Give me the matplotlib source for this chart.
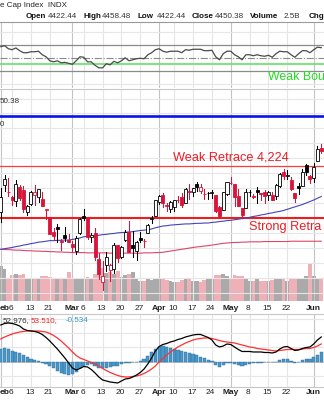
import matplotlib.pyplot as plt
from matplotlib.patches import Rectangle

plt.rcParams['font.family'] = ['Liberation Sans', 'DejaVu Sans']

W, H = 324, 400

# trading days shown, Feb 1 .. Jun 5 2023
dates = ['02-01', '02-02', '02-03', '02-06', '02-07', '02-08', '02-09', '02-10', '02-13', '02-14',
         '02-15', '02-16', '02-17', '02-21', '02-22', '02-23', '02-24', '02-27', '02-28', '03-01',
         '03-02', '03-03', '03-06', '03-07', '03-08', '03-09', '03-10', '03-13', '03-14', '03-15',
         '03-16', '03-17', '03-20', '03-21', '03-22', '03-23', '03-24', '03-27', '03-28', '03-29',
         '03-30', '03-31', '04-03', '04-04', '04-05', '04-06', '04-10', '04-11', '04-12', '04-13',
         '04-14', '04-17', '04-18', '04-19', '04-20', '04-21', '04-24', '04-25', '04-26', '04-27',
         '04-28', '05-01', '05-02', '05-03', '05-04', '05-05', '05-08', '05-09', '05-10', '05-11',
         '05-12', '05-15', '05-16', '05-17', '05-18', '05-19', '05-22', '05-23', '05-24', '05-25',
         '05-26', '05-30', '05-31', '06-01', '06-02', '06-05']

prev_close = 4076.60
opens = [4070.1, 4158.7, 4136.7, 4119.6, 4105.4, 4153.5, 4144.3, 4068.9, 4096.6, 4126.7,
         4119.5, 4114.8, 4077.4, 4052.4, 4001.8, 4018.6, 3973.2, 3992.4, 3977.2, 3963.3,
         3938.7, 3998.0, 4055.2, 4048.3, 3987.6, 3998.7, 3912.8, 3835.1, 3894.0, 3876.7,
         3878.9, 3958.7, 3917.5, 3975.9, 4002.0, 3959.2, 3939.2, 3982.9, 3974.1, 3999.5,
         4046.7, 4056.2, 4102.2, 4128.0, 4094.5, 4081.2, 4085.2, 4110.3, 4121.7, 4100.0,
         4140.1, 4137.2, 4164.3, 4139.3, 4130.5, 4132.1, 4132.1, 4126.4, 4087.8, 4075.3,
         4129.6, 4166.8, 4164.1, 4122.3, 4082.6, 4084.7, 4137.0, 4124.3, 4143.7, 4132.2,
         4138.5, 4126.7, 4128.0, 4122.9, 4157.7, 4204.2, 4190.8, 4176.8, 4133.0, 4155.7,
         4156.2, 4226.7, 4190.7, 4183.0, 4241.0, 4283.0]
highs = [4149.0, 4195.4, 4182.4, 4124.6, 4176.5, 4160.8, 4156.2, 4094.4, 4138.9, 4159.8,
         4148.1, 4136.5, 4081.5, 4052.4, 4017.4, 4028.3, 3978.3, 4018.1, 3997.5, 3971.7,
         3990.8, 4048.3, 4078.5, 4050.0, 4000.4, 4017.8, 3934.1, 3905.1, 3937.3, 3894.3,
         3964.5, 3958.9, 3956.6, 4009.1, 4039.5, 4007.7, 3972.7, 4003.8, 3979.2, 4030.6,
         4057.9, 4110.8, 4127.7, 4133.1, 4099.7, 4107.3, 4109.5, 4124.3, 4134.4, 4150.3,
         4163.2, 4151.7, 4169.5, 4162.6, 4148.6, 4138.0, 4142.4, 4126.4, 4089.7, 4138.2,
         4170.1, 4186.9, 4164.1, 4148.3, 4082.6, 4147.0, 4142.3, 4130.4, 4154.3, 4132.8,
         4143.7, 4141.3, 4135.5, 4164.7, 4202.2, 4212.9, 4209.2, 4185.7, 4133.0, 4165.7,
         4212.9, 4231.1, 4195.4, 4232.4, 4290.7, 4299.3]
lows = [4037.2, 4141.9, 4123.4, 4093.4, 4088.4, 4111.4, 4069.7, 4060.8, 4092.7, 4095.0,
        4104.0, 4089.5, 4048.0, 3995.2, 3976.9, 3969.2, 3943.1, 3973.6, 3969.0, 3939.1,
        3928.2, 3995.2, 4044.6, 3980.3, 3969.8, 3908.7, 3846.3, 3808.9, 3873.6, 3838.2,
        3864.1, 3901.3, 3916.9, 3971.2, 3936.2, 3919.1, 3909.2, 3970.5, 3951.5, 3999.5,
        4032.1, 4056.2, 4097.0, 4086.9, 4072.6, 4069.8, 4072.6, 4102.6, 4086.9, 4099.4,
        4113.2, 4123.2, 4140.4, 4134.5, 4114.6, 4113.9, 4117.8, 4071.4, 4049.4, 4075.3,
        4127.2, 4164.1, 4089.7, 4088.9, 4048.3, 4084.7, 4123.8, 4116.7, 4098.9, 4109.3,
        4099.1, 4110.3, 4109.9, 4113.6, 4153.5, 4180.2, 4179.7, 4142.5, 4104.0, 4129.7,
        4156.2, 4192.2, 4166.2, 4171.6, 4241.0, 4266.8]
closes = [4119.2, 4179.8, 4136.5, 4111.1, 4164.0, 4117.9, 4081.5, 4090.5, 4137.3, 4136.1,
          4147.6, 4090.4, 4079.1, 3997.3, 3991.1, 4012.3, 3970.0, 3982.2, 3970.2, 3951.4,
          3981.4, 4045.6, 4048.4, 3986.4, 3992.0, 3918.3, 3861.6, 3855.8, 3919.3, 3891.9,
          3960.3, 3916.6, 3951.6, 4002.9, 3937.0, 3948.7, 3971.0, 3977.5, 3971.3, 4027.8,
          4050.8, 4109.3, 4124.5, 4100.6, 4090.4, 4105.0, 4109.1, 4108.9, 4092.0, 4146.2,
          4137.6, 4151.3, 4154.9, 4154.5, 4129.8, 4133.5, 4137.0, 4071.6, 4056.0, 4135.4,
          4169.5, 4167.9, 4119.6, 4090.8, 4061.2, 4136.3, 4138.1, 4119.2, 4137.6, 4130.6,
          4124.1, 4136.3, 4109.9, 4158.8, 4198.1, 4192.0, 4192.6, 4145.6, 4115.2, 4151.3,
          4205.5, 4205.5, 4179.8, 4221.0, 4282.4, 4273.8]
volume_b = [5.0, 4.6, 3.3, 3.7, 3.9, 3.7, 3.9, 3.1, 3.1, 3.3,
            3.3, 3.6, 3.6, 3.4, 3.1, 3.3, 3.1, 3.1, 4.1, 3.1,
            3.3, 3.3, 3.1, 3.4, 3.1, 3.9, 4.3, 4.7, 4.0, 4.1,
            3.9, 4.3, 3.4, 3.7, 3.9, 4.1, 3.3, 2.9, 2.9, 3.1,
            3.0, 3.3, 3.1, 3.1, 3.0, 2.9, 2.7, 2.7, 3.0, 3.1,
            3.1, 2.9, 2.9, 2.7, 3.0, 3.1, 3.1, 3.7, 3.7, 3.9,
            3.6, 3.1, 3.7, 3.6, 3.6, 3.3, 2.9, 2.9, 3.1, 2.9,
            2.9, 2.9, 3.0, 3.1, 3.3, 3.1, 2.9, 3.1, 3.1, 3.3,
            3.1, 3.6, 5.3, 3.6, 3.3, 3.1]
ma50 = [3945, 3947, 3949, 3951, 3954, 3956, 3959, 3961, 3964, 3966,
        3969, 3970, 3972, 3974, 3974, 3975, 3975, 3976, 3976, 3978,
        3980, 3983, 3987, 3988, 3989, 3990, 3992, 3994, 3995, 3997,
        3998, 4000, 4001, 4002, 4003, 4004, 4006, 4008, 4009, 4011,
        4013, 4017, 4020, 4023, 4024, 4026, 4027, 4028, 4029, 4030,
        4030, 4031, 4032, 4032, 4033, 4033, 4035, 4036, 4038, 4039,
        4041, 4042, 4044, 4046, 4048, 4050, 4052, 4055, 4057, 4060,
        4062, 4065, 4067, 4070, 4072, 4075, 4079, 4083, 4087, 4091,
        4095, 4100, 4105, 4110, 4116, 4122]
ma200 = [3945, 3944, 3944, 3943, 3942, 3942, 3941, 3940, 3940, 3939,
         3939, 3938, 3938, 3937, 3937, 3936, 3936, 3935, 3935, 3934,
         3934, 3934, 3934, 3933, 3933, 3933, 3933, 3933, 3933, 3932,
         3932, 3932, 3932, 3932, 3932, 3932, 3932, 3932, 3933, 3933,
         3933, 3934, 3934, 3935, 3937, 3939, 3941, 3943, 3945, 3947,
         3949, 3951, 3953, 3954, 3956, 3957, 3959, 3961, 3963, 3965,
         3966, 3967, 3968, 3968, 3969, 3969, 3970, 3970, 3970, 3970,
         3971, 3971, 3971, 3971, 3971, 3971, 3971, 3972, 3972, 3972,
         3972, 3972, 3972, 3972, 3972, 3972]
rsi = [66.9, 68.5, 63.8, 62.3, 65.0, 60.8, 57.7, 57.7, 59.2, 59.2,
       60.0, 54.6, 51.5, 45.4, 43.8, 45.4, 42.3, 43.0, 41.5, 40.0,
       45.4, 51.5, 50.8, 43.8, 43.8, 38.5, 34.6, 34.6, 40.8, 39.2,
       44.6, 42.3, 45.4, 50.0, 45.4, 46.9, 48.5, 49.2, 48.5, 54.6,
       57.7, 62.3, 63.8, 60.0, 58.5, 60.0, 60.0, 60.0, 57.7, 62.3,
       61.5, 63.0, 63.0, 63.0, 60.8, 60.8, 61.5, 51.5, 46.9, 56.2,
       60.0, 60.0, 54.6, 51.5, 46.9, 54.6, 54.6, 53.1, 54.6, 53.1,
       52.3, 53.8, 50.8, 56.2, 60.0, 59.2, 59.2, 54.6, 50.8, 56.2,
       60.8, 60.8, 57.7, 62.3, 66.2, 65.4]
macd = [51.4, 53.5, 54.2, 53.5, 52.1, 50.0, 45.8, 43.7, 43.0, 42.3,
        40.9, 38.1, 33.9, 29.0, 23.4, 17.8, 11.5, 5.2, -1.8, -8.8,
        -11.6, -9.5, -6.7, -7.4, -10.9, -15.8, -21.4, -25.6, -27.0, -28.4,
        -29.1, -29.8, -27.0, -24.2, -23.5, -21.4, -18.6, -15.1, -10.2, -3.2,
        5.2, 15.0, 21.3, 24.1, 25.5, 27.6, 29.0, 31.1, 32.5, 34.6,
        36.0, 37.4, 38.1, 38.1, 36.0, 33.9, 30.4, 23.4, 20.6, 22.0,
        24.8, 24.1, 20.6, 17.1, 14.3, 14.3, 14.3, 13.6, 13.6, 13.6,
        12.9, 12.9, 12.2, 13.6, 17.8, 20.6, 21.3, 18.5, 15.7, 16.4,
        18.5, 19.9, 20.6, 24.8, 30.4, 34.6]
signal = [31.8, 34.6, 36.7, 38.8, 40.2, 41.6, 42.3, 43.0, 43.0, 43.0,
          43.0, 42.3, 41.6, 39.5, 36.7, 33.2, 29.0, 24.1, 19.2, 13.6,
          8.7, 5.2, 3.1, 1.0, -1.1, -3.2, -6.0, -9.5, -12.3, -15.1,
          -17.2, -19.3, -20.7, -21.4, -21.4, -20.7, -20.0, -18.6, -16.5, -13.7,
          -10.2, -6.0, -0.4, 4.5, 9.4, 13.6, 17.1, 20.6, 23.4, 26.2,
          28.3, 30.4, 31.8, 32.5, 33.2, 33.2, 32.5, 31.1, 29.7, 28.3,
          27.6, 26.9, 26.2, 24.8, 23.4, 22.0, 20.6, 19.9, 18.5, 17.8,
          17.1, 16.4, 15.7, 15.0, 15.7, 16.4, 17.1, 17.1, 17.1, 17.1,
          17.8, 18.5, 18.5, 19.9, 22.0, 24.8]
hist = [17.8, 19.2, 17.8, 15.0, 13.6, 12.2, 9.4, 6.6, 3.8, 1.7,
        0.3, -1.8, -3.9, -6.0, -9.5, -13.0, -15.8, -17.9, -18.6, -17.9,
        -14.4, -9.5, -6.0, -4.6, -3.9, -6.0, -8.8, -9.5, -8.8, -8.1,
        -6.7, -6.0, -3.9, -2.5, -1.8, -1.1, -0.4, 1.0, 3.8, 8.0,
        12.9, 17.8, 20.6, 21.3, 20.6, 19.2, 17.8, 16.4, 15.0, 13.6,
        12.2, 10.8, 8.7, 6.6, 4.5, 2.4, 0.3, -4.6, -7.4, -4.6,
        -1.8, -1.8, -3.2, -4.6, -6.0, -4.6, -3.2, -2.5, -1.8, -1.8,
        -1.1, -1.1, -1.1, -0.4, 2.4, 3.8, 3.8, 0.3, -1.8, -0.4,
        2.4, 3.8, 3.8, 5.9, 9.4, 13.6]

# date axis labels: (day index, text, is month)
date_ticks = [(0, 'eb', True), (3, '6', False), (8, '13', False), (13, '21', False),
              (19, 'Mar', True), (22, '6', False), (27, '13', False), (32, '20', False),
              (37, '27', False), (42, 'Apr', True), (46, '10', False), (51, '17', False),
              (56, '24', False), (61, 'May', True), (66, '8', False), (71, '15', False),
              (76, '22', False), (83, 'Jun', True)]

weak_bound = 40
blue_level = 4391
weak_retrace = 4224
strong_retrace = 4050

RED = '#d8143a'
FS = 5.8
n = len(closes)
idx = list(range(n))
XL = (-0.8 / 3.77, (W - 0.8) / 3.77)

fig = plt.figure(figsize=(W / 100, H / 100), dpi=100)
fig.patch.set_facecolor('white')


def panel(top, bottom):
    ax = fig.add_axes([0, 1 - bottom / H, 1, (bottom - top) / H])
    ax.set_xlim(*XL)
    ax.set_xticks([])
    ax.set_yticks([])
    for s in ax.spines.values():
        s.set_visible(False)
    for i, _, month in date_ticks:
        ax.axvline(i, color='#c4c4c4' if month else '#e6e6e6', lw=0.8, zorder=0)
    return ax


def ptext(x, y, s, **kw):
    fig.text(x / W, 1 - y / H, s, va='center', **kw)


# ---- header
ptext(0, 5.5, 'e Cap Index  INDX', fontsize=FS, color='#222222')
hdr = [(26, 'Open', True), (48, '4422.44', False), (83, 'High', True), (102, '4458.48', False),
       (137, 'Low', True), (157, '4422.44', False), (192, 'Close', True), (215, '4450.38', False),
       (250, 'Volume', True), (284, '2.5B', False), (309, 'Chg', True)]
for x, s, b in hdr:
    ptext(x, 16, s, fontsize=FS, fontweight='bold' if b else 'normal',
          color='#111111' if b else '#333333')

# ---- RSI panel
ax_rsi = panel(21.5, 88)
ax_rsi.set_ylim(3.8, 105.4)
for lvl in (90, 10):
    ax_rsi.axhline(lvl, color='#e6e6e6', lw=0.8, zorder=0)
ax_rsi.axhline(70, color='#8a8a8a', lw=0.9)
ax_rsi.axhline(30, color='#8a8a8a', lw=0.9)
ax_rsi.axhline(50, color='#8a8a8a', lw=0.8, ls='-.')
ax_rsi.axhline(weak_bound, color='#66e066', lw=1.2)
ax_rsi.plot(idx, rsi, color='#4a4a4a', lw=0.9)
ax_rsi.spines['top'].set_visible(True)
ax_rsi.spines['top'].set_color('#9a9a9a')
ax_rsi.spines['top'].set_linewidth(0.8)
ax_rsi.text(70.8, 20.5, 'Weak Bou', color='#22dd22', fontsize=8.9, va='center')

# ---- price panel
ax = panel(89, 301)
ax.set_ylim(4224 - (301 - 166) * 3.35, 4224 + (166 - 89) * 3.35)
for lvl in range(3800, 4451, 50):
    ax.axhline(lvl, color='#e6e6e6', lw=0.8, zorder=0)
ax.spines['top'].set_visible(True)
ax.spines['top'].set_color('#c8c8c8')

# volume overlay
axv = ax.twinx()
axv.set_xlim(*XL)
axv.set_ylim(0, 212 / 7.0)
axv.set_yticks([])
for s in axv.spines.values():
    s.set_visible(False)
axv.set_zorder(ax.get_zorder() - 1)
ax.patch.set_visible(False)
pc = [prev_close] + closes[:-1]
vcol = ['#aaaaaa' if c >= p else '#f0b0b8' for c, p in zip(closes, pc)]
axv.bar(idx, volume_b, width=1.0, color=vcol, edgecolor='none')

ax.axhline(blue_level, color='#0a14e6', lw=1.9, zorder=3)
ax.axhline(weak_retrace, color='#ff3b3b', lw=0.9, zorder=3)
ax.axhline(strong_retrace, color='#ee1c1c', lw=1.5, zorder=3)
ax.text(45.6, weak_retrace + 8, 'Weak Retrace 4,224', color='#ee1c24', fontsize=9.2,
        va='bottom')
ax.text(65.8, strong_retrace - 30, 'Strong Retra', color='#ee1c24', fontsize=9.2,
        va='center')

ax.plot(idx, ma200, color='#e0446c', lw=0.8, zorder=4)
ax.plot(idx, ma50, color='#4444b8', lw=0.8, zorder=4)

for i in idx:
    o, h, l, c = opens[i], highs[i], lows[i], closes[i]
    col = RED if c < pc[i] else 'black'
    ax.plot([i, i], [l, h], color=col, lw=0.75, zorder=5)
    lo, hi = min(o, c), max(o, c)
    hollow = c > o
    ax.add_patch(Rectangle((i - 0.4, lo), 0.8, max(hi - lo, 1.0),
                           facecolor='white' if hollow else col, edgecolor=col,
                           lw=0.6, zorder=6))

ax.text(-0.2, 4440, '50.38', fontsize=FS, color='#333333', va='center')
ax.text(-0.2, 4362, '0', fontsize=FS, color='#333333', va='center')

# ---- MACD panel
axm = panel(314, 387)
axm.set_ylim((361.7 - 387) * 1.4, (361.7 - 314) * 1.4)
for lvl in (-20, 20, 40, 60):
    axm.axhline(lvl, color='#e6e6e6', lw=0.8, zorder=0)
axm.axhline(0, color='#bbbbbb', lw=0.6, zorder=1)
axm.bar(idx, hist, width=0.85, color='#4a97c9', edgecolor='#2d6f9a', lw=0.3, zorder=2)
axm.plot(idx, signal, color='#ff3030', lw=0.9, zorder=3)
axm.plot(idx, macd, color='black', lw=0.9, zorder=4)
axm.spines['top'].set_visible(True)
axm.spines['top'].set_color('#c8c8c8')
axm.spines['bottom'].set_visible(True)
axm.spines['bottom'].set_color('#c8c8c8')

ptext(3, 320.5, '52.976,', fontsize=FS, color='#333333')
ptext(31, 320.5, '53.510,', fontsize=FS, color='#ee2222')
ptext(66, 320.5, '-0.534', fontsize=FS, color='#3399cc')

# ---- date labels under price and MACD panels
for ypix in (308, 393):
    for i, s, month in date_ticks:
        xp = 0.8 + 3.77 * i - (0 if month else 1.3)
        if i == 0:
            ptext(0, ypix, s, fontsize=6.0, ha='left', fontweight='bold', color='#222222')
            continue
        ptext(xp, ypix, s, fontsize=6.0, ha='center',
              fontweight='bold' if month else 'normal', color='#222222')

fig.savefig('out.png', dpi=100)
